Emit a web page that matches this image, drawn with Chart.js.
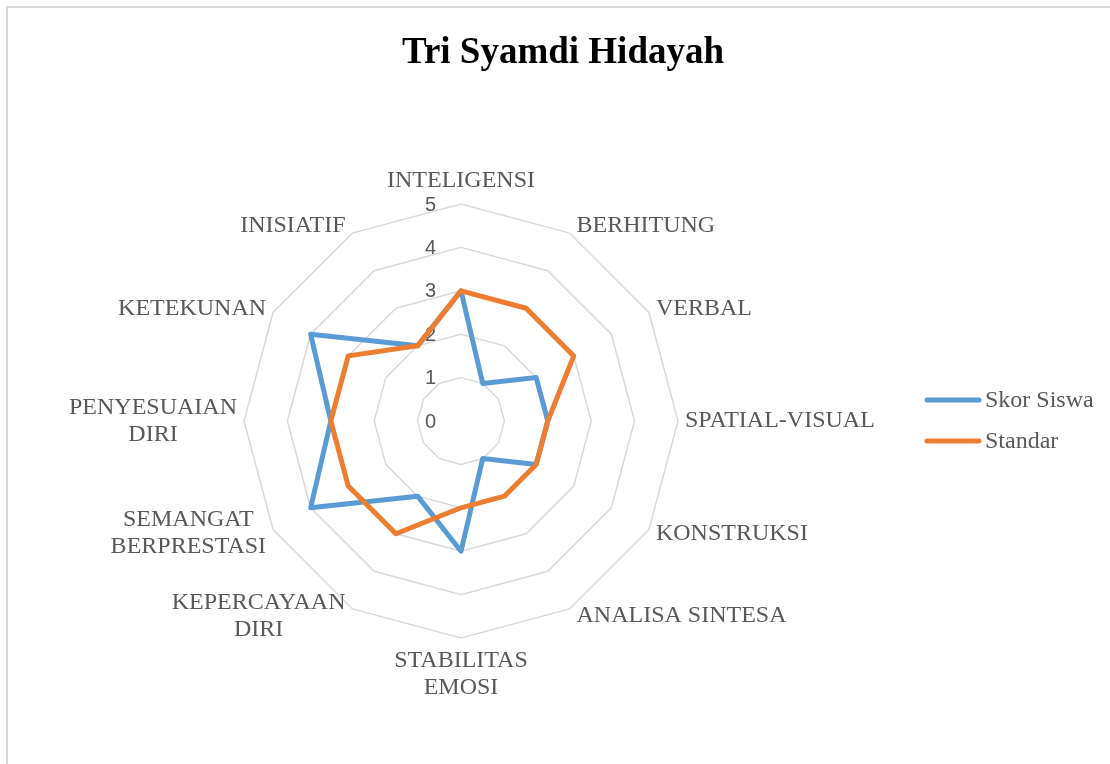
<!DOCTYPE html>
<html>
<head>
<meta charset="utf-8">
<script src="https://cdn.jsdelivr.net/npm/chart.js@4/dist/chart.umd.min.js"></script>
<style>
  html, body { margin: 0; padding: 0; background: #fff; }
  canvas { display: block; }
</style>
</head>
<body>
<canvas id="radar" width="1110" height="764" style="width:1110px;height:764px"></canvas>
<script>
// Chart content
const chartTitle = 'Tri Syamdi Hidayah';
const categories = [
  'INTELIGENSI', 'BERHITUNG', 'VERBAL', 'SPATIAL-VISUAL', 'KONSTRUKSI',
  'ANALISA SINTESA', ['STABILITAS', 'EMOSI'], ['KEPERCAYAAN', 'DIRI'],
  ['SEMANGAT', 'BERPRESTASI'], ['PENYESUAIAN', 'DIRI'], 'KETEKUNAN', 'INISIATIF'
];
const seriesNames = ['Skor Siswa', 'Standar'];
const skorSiswa = [3, 1, 2, 2, 2, 1, 3, 2, 4, 3, 4, 2];
const standar   = [3, 3, 3, 2, 2, 2, 2, 3, 3, 3, 3, 2];
const tickValues = [0, 1, 2, 3, 4, 5];
const seriesColors = ['#5b9bd5', '#ed7d31'];

const LABEL_FONT = '24px "Liberation Serif", "Times New Roman", serif';
const LABEL_COLOR = '#595959';
const LINE_H = 27;

// Frame, title, axis numbers, category labels and legend
const decor = {
  id: 'decor',
  beforeDraw(chart) {
    const ctx = chart.ctx;
    ctx.save();
    ctx.fillStyle = '#ffffff';
    ctx.fillRect(0, 0, chart.width, chart.height);
    ctx.strokeStyle = '#d9d9d9';
    ctx.lineWidth = 2;
    ctx.beginPath();
    ctx.moveTo(7, chart.height);
    ctx.lineTo(7, 7);
    ctx.lineTo(chart.width, 7);
    ctx.stroke();

    ctx.fillStyle = '#000000';
    ctx.font = 'bold 37px "Liberation Serif", "Times New Roman", serif';
    ctx.textAlign = 'center';
    ctx.textBaseline = 'alphabetic';
    ctx.fillText(chartTitle, 563, 63);
    ctx.restore();
  },
  beforeDatasetsDraw(chart) {
    const ctx = chart.ctx;
    const s = chart.scales.r;
    ctx.save();
    ctx.fillStyle = LABEL_COLOR;
    ctx.font = '20px "Liberation Sans", Arial, sans-serif';
    ctx.textAlign = 'right';
    ctx.textBaseline = 'middle';
    s.ticks.forEach(t => {
      const d = s.getDistanceFromCenterForValue(t.value);
      ctx.fillText(String(t.value), s.xCenter - 25, s.yCenter - d + 1);
    });
    ctx.restore();
  },
  afterDraw(chart) {
    const ctx = chart.ctx;
    const s = chart.scales.r;
    const R = s.drawingArea;
    ctx.save();
    ctx.fillStyle = LABEL_COLOR;
    ctx.font = LABEL_FONT;
    ctx.textAlign = 'center';
    ctx.textBaseline = 'middle';
    categories.forEach((lab, i) => {
      const lines = Array.isArray(lab) ? lab : [lab];
      const ang = s.getIndexAngle(i);
      const sn = Math.sin(ang), cs = Math.cos(ang);
      const p = s.getPointPosition(i, R);
      const w = Math.max(...lines.map(l => ctx.measureText(l).width));
      const n = lines.length;
      let cx, cy;
      if (Math.abs(sn) < 0.01) {
        cx = p.x;
        if (cs > 0) cy = p.y - 23 - (n - 1) * LINE_H / 2;
        else cy = p.y + 22.5 + (n - 1) * LINE_H / 2;
      } else if (sn > 0) {
        cx = p.x + 7 + w / 2;
        cy = p.y - 8 * cs;
      } else {
        cx = p.x - 7 - w / 2;
        cy = p.y - 8 * cs;
      }
      lines.forEach((l, k) => {
        ctx.fillText(l, cx, cy + (k - (n - 1) / 2) * LINE_H);
      });
    });

    // legend
    seriesNames.forEach((name, k) => {
      const y = 400 + 41 * k;
      ctx.strokeStyle = seriesColors[k];
      ctx.lineWidth = 5;
      ctx.lineCap = 'round';
      ctx.beginPath();
      ctx.moveTo(927, y);
      ctx.lineTo(979, y);
      ctx.stroke();
      ctx.textAlign = 'left';
      ctx.fillStyle = LABEL_COLOR;
      ctx.fillText(name, 985, y + 1);
    });
    ctx.restore();
  }
};

new Chart(document.getElementById('radar'), {
  type: 'radar',
  data: {
    labels: categories,
    datasets: [
      {
        label: seriesNames[0],
        data: skorSiswa,
        borderColor: seriesColors[0],
        borderWidth: 5,
        fill: false,
        pointRadius: 0,
        pointHoverRadius: 0,
        borderJoinStyle: 'round',
        order: 2
      },
      {
        label: seriesNames[1],
        data: standar,
        borderColor: seriesColors[1],
        borderWidth: 5,
        fill: false,
        pointRadius: 0,
        pointHoverRadius: 0,
        borderJoinStyle: 'round',
        order: 1
      }
    ]
  },
  options: {
    responsive: false,
    animation: false,
    layout: { padding: { left: 244, top: 204, right: 432, bottom: 126 } },
    plugins: {
      legend: { display: false },
      title: { display: false },
      tooltip: { enabled: false }
    },
    scales: {
      r: {
        min: tickValues[0],
        max: tickValues[tickValues.length - 1],
        ticks: { display: false, stepSize: 1 },
        pointLabels: { display: false },
        angleLines: { display: false },
        grid: { color: '#d9d9d9', lineWidth: 1.5, circular: false }
      }
    }
  },
  plugins: [decor]
});
</script>
</body>
</html>
